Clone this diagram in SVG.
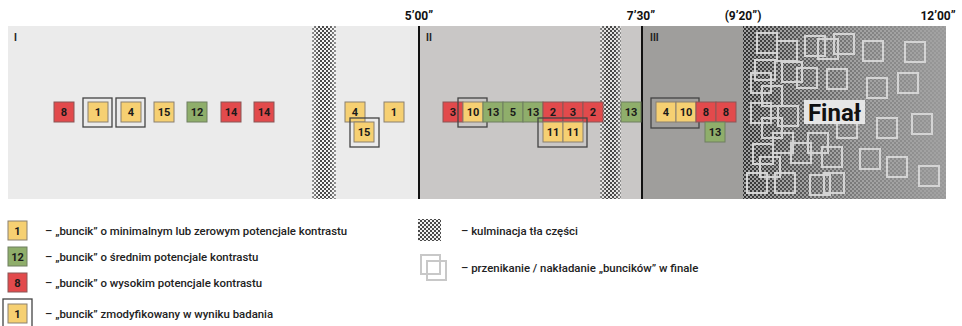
<svg xmlns="http://www.w3.org/2000/svg" width="962" height="326" viewBox="0 0 962 326">
<style>
.y{fill:#f6d072;stroke:#8a8070;stroke-width:1}
.g{fill:#8fae6b;stroke:#6f7f60;stroke-width:1}
.r{fill:#e24a4c;stroke:#8a5656;stroke-width:1}
.fr{fill:none;stroke:#444;stroke-width:1.3}
.bt{font-family:Roboto,"Liberation Sans",sans-serif;font-weight:bold;font-size:11px;fill:#1a1a1a;text-anchor:middle}
.hd{font-family:Roboto,"Liberation Sans",sans-serif;font-weight:bold;font-size:12px;fill:#111;text-anchor:middle}
.sl{font-family:Roboto,"Liberation Sans",sans-serif;font-weight:bold;font-size:10px;fill:#222}
.lg{font-family:Roboto,"Liberation Sans",sans-serif;font-weight:500;font-size:11.4px;fill:#222}
.sq{fill:none;stroke:#d4d4d4;stroke-width:2}
</style>
<defs>
<pattern id="dots" width="4" height="4" patternUnits="userSpaceOnUse">
<circle cx="1" cy="1" r="1" fill="#111"/>
<circle cx="3" cy="3" r="1" fill="#111"/>
</pattern>
<pattern id="chk" width="4" height="4" patternUnits="userSpaceOnUse">
<rect x="0" y="0" width="2" height="2" fill="#2a2a2a"/>
<rect x="2" y="2" width="2" height="2" fill="#2a2a2a"/>
</pattern>
<linearGradient id="fade" x1="0" y1="0" x2="1" y2="0">
<stop offset="0" stop-color="#eee"/>
<stop offset="0.3" stop-color="#999"/>
<stop offset="0.6" stop-color="#444"/>
<stop offset="1" stop-color="#111"/>
</linearGradient>
<linearGradient id="edge" x1="0" y1="0" x2="1" y2="0">
<stop offset="0" stop-color="#888"/>
<stop offset="0.3" stop-color="#fff"/>
<stop offset="0.7" stop-color="#fff"/>
<stop offset="1" stop-color="#888"/>
</linearGradient>
<mask id="mFinal"><rect x="743" y="26" width="203" height="173" fill="url(#fade)"/></mask>
<mask id="mS1"><rect x="312" y="26" width="24" height="173" fill="url(#edge)"/></mask>
<mask id="mS2"><rect x="600" y="26" width="21" height="173" fill="url(#edge)"/></mask>
</defs>

<!-- background sections -->
<g id="background">
<rect x="8" y="26" width="411" height="173" fill="#ebebeb"/>
<rect x="419" y="26" width="223" height="173" fill="#c9c7c6"/>
<rect x="642" y="26" width="101" height="173" fill="#9f9e9c"/>
<rect x="743" y="26" width="203" height="173" fill="#a2a2a2"/>
<rect x="743" y="26" width="203" height="173" fill="url(#chk)" mask="url(#mFinal)"/>
<rect x="312" y="26" width="24" height="173" fill="#f4f4f4"/>
<rect x="312" y="26" width="24" height="173" fill="url(#dots)" mask="url(#mS1)"/>
<rect x="600" y="26" width="21" height="173" fill="#e4e3e2"/>
<rect x="600" y="26" width="21" height="173" fill="url(#dots)" mask="url(#mS2)"/>
<line x1="419" y1="26" x2="419" y2="199" stroke="#111" stroke-width="2"/>
<line x1="642" y1="26" x2="642" y2="199" stroke="#111" stroke-width="2"/>
</g>

<g id="time-labels">
<text class="hd" x="419" y="20">5’00”</text>
<text class="hd" x="641" y="20">7’30”</text>
<text class="hd" x="743" y="20">(9’20”)</text>
<text class="hd" x="938" y="20">12’00”</text>
</g>
<g id="section-labels">
<text class="sl" x="14" y="41">I</text>
<text class="sl" x="426" y="41">II</text>
<text class="sl" x="650" y="41">III</text>
</g>

<!-- final overlapping squares -->
<g id="final-squares">
<rect class="sq" x="757" y="33" width="20" height="20"/>
<rect class="sq" x="777" y="41" width="20" height="20"/>
<rect class="sq" x="805" y="36" width="20" height="20"/>
<rect class="sq" x="818" y="39" width="20" height="20"/>
<rect class="sq" x="834" y="34" width="20" height="20"/>
<rect class="sq" x="863" y="41" width="20" height="20"/>
<rect class="sq" x="905" y="42" width="20" height="20"/>
<rect class="sq" x="755" y="60" width="20" height="20"/>
<rect class="sq" x="782" y="62" width="20" height="20"/>
<rect class="sq" x="797" y="68" width="20" height="20"/>
<rect class="sq" x="827" y="69" width="20" height="20"/>
<rect class="sq" x="751" y="73" width="20" height="20"/>
<rect class="sq" x="762" y="86" width="20" height="20"/>
<rect class="sq" x="867" y="78" width="20" height="20"/>
<rect class="sq" x="898" y="73" width="20" height="20"/>
<rect class="sq" x="751" y="103" width="20" height="20"/>
<rect class="sq" x="778" y="106" width="20" height="20"/>
<rect class="sq" x="762" y="118" width="20" height="20"/>
<rect class="sq" x="837" y="118" width="20" height="20"/>
<rect class="sq" x="877" y="118" width="20" height="20"/>
<rect class="sq" x="912" y="114" width="20" height="20"/>
<rect class="sq" x="753" y="144" width="20" height="20"/>
<rect class="sq" x="773" y="133" width="20" height="20"/>
<rect class="sq" x="791" y="143" width="20" height="20"/>
<rect class="sq" x="808" y="133" width="20" height="20"/>
<rect class="sq" x="822" y="147" width="20" height="20"/>
<rect class="sq" x="760" y="157" width="20" height="20"/>
<rect class="sq" x="747" y="173" width="20" height="20"/>
<rect class="sq" x="775" y="173" width="20" height="20"/>
<rect class="sq" x="810" y="175" width="20" height="20"/>
<rect class="sq" x="824" y="173" width="20" height="20"/>
<rect class="sq" x="860" y="149" width="20" height="20"/>
<rect class="sq" x="887" y="157" width="20" height="20"/>
<rect class="sq" x="919" y="166" width="20" height="20"/>
</g>
<g id="final-label">
<rect x="804" y="100" width="61" height="24" fill="#e6e6e6"/>
<text x="834.5" y="121" font-family="Roboto,'Liberation Sans',sans-serif" font-weight="bold" font-size="24" fill="#111" text-anchor="middle">Finał</text>
</g>

<!-- Section I -->
<g id="s1-8"><rect class="r" x="54" y="102" width="20" height="20"/><text class="bt" x="64" y="116">8</text></g>
<g id="s1-1"><rect class="y" x="88" y="102" width="20" height="20"/><text class="bt" x="98" y="116">1</text><rect class="fr" x="83" y="98" width="29" height="29"/></g>
<g id="s1-4"><rect class="y" x="121" y="102" width="20" height="20"/><text class="bt" x="131" y="116">4</text><rect class="fr" x="116" y="98" width="29" height="29"/></g>
<g id="s1-15"><rect class="y" x="154" y="102" width="20" height="20"/><text class="bt" x="164" y="116">15</text></g>
<g id="s1-12"><rect class="g" x="187" y="102" width="20" height="20"/><text class="bt" x="197" y="116">12</text></g>
<g id="s1-14a"><rect class="r" x="221" y="102" width="20" height="20"/><text class="bt" x="231" y="116">14</text></g>
<g id="s1-14b"><rect class="r" x="254" y="102" width="20" height="20"/><text class="bt" x="264" y="116">14</text></g>
<g id="s1b-4"><rect class="y" x="345" y="102" width="20" height="20"/><text class="bt" x="355" y="116">4</text></g>
<g id="s1b-1"><rect class="y" x="384" y="102" width="20" height="20"/><text class="bt" x="394" y="116">1</text></g>
<g id="s1b-15"><rect class="y" x="354" y="122" width="20" height="20"/><text class="bt" x="364" y="136">15</text><rect class="fr" x="350" y="118" width="29" height="29"/></g>

<!-- Section II -->
<g id="s2-3a"><rect class="r" x="443" y="102" width="20" height="20"/><text class="bt" x="453" y="116">3</text></g>
<g id="s2-10"><rect class="y" x="463" y="102" width="20" height="20"/><text class="bt" x="473" y="116">10</text><rect class="fr" x="458" y="98" width="29" height="29"/></g>
<g id="s2-13a"><rect class="g" x="483" y="102" width="20" height="20"/><text class="bt" x="493" y="116">13</text></g>
<g id="s2-5"><rect class="g" x="503" y="102" width="20" height="20"/><text class="bt" x="513" y="116">5</text></g>
<g id="s2-13b"><rect class="g" x="523" y="102" width="20" height="20"/><text class="bt" x="533" y="116">13</text></g>
<g id="s2-2a"><rect class="r" x="543" y="102" width="20" height="20"/><text class="bt" x="553" y="116">2</text></g>
<g id="s2-3b"><rect class="r" x="563" y="102" width="20" height="20"/><text class="bt" x="573" y="116">3</text></g>
<g id="s2-2b"><rect class="r" x="583" y="102" width="20" height="20"/><text class="bt" x="593" y="116">2</text></g>
<g id="s2-11"><rect class="y" x="543" y="122" width="20" height="20"/><text class="bt" x="553" y="136">11</text><rect class="y" x="563" y="122" width="20" height="20"/><text class="bt" x="573" y="136">11</text><rect class="fr" x="538" y="118" width="49" height="29"/></g>
<g id="s2b-13"><rect class="g" x="621" y="102" width="20" height="20"/><text class="bt" x="631" y="116">13</text></g>

<!-- Section III -->
<g id="s3-4-10"><rect class="y" x="656" y="102" width="20" height="20"/><text class="bt" x="666" y="116">4</text><rect class="y" x="676" y="102" width="20" height="20"/><text class="bt" x="686" y="116">10</text><rect class="fr" x="651" y="98" width="48" height="30"/></g>
<g id="s3-8a"><rect class="r" x="696" y="102" width="20" height="20"/><text class="bt" x="706" y="116">8</text></g>
<g id="s3-8b"><rect class="r" x="716" y="102" width="20" height="20"/><text class="bt" x="726" y="116">8</text></g>
<g id="s3-13"><rect class="g" x="705" y="122" width="20" height="20"/><text class="bt" x="715" y="136">13</text></g>

<!-- Legend -->
<g id="legend-low"><rect class="y" x="8" y="221" width="19" height="19"/><text class="bt" x="17.5" y="235">1</text><text class="lg" x="45" y="235">– „buncik” o minimalnym lub zerowym potencjale kontrastu</text></g>
<g id="legend-mid"><rect class="g" x="8" y="247" width="19" height="19"/><text class="bt" x="17.5" y="261">12</text><text class="lg" x="45" y="261">– „buncik” o średnim potencjale kontrastu</text></g>
<g id="legend-high"><rect class="r" x="8" y="273" width="19" height="19"/><text class="bt" x="17.5" y="287">8</text><text class="lg" x="45" y="287">– „buncik” o wysokim potencjale kontrastu</text></g>
<g id="legend-mod"><rect class="y" x="8" y="304" width="19" height="19"/><text class="bt" x="17.5" y="318">1</text><rect class="fr" x="3" y="299" width="29" height="29"/><text class="lg" x="45" y="318">– „buncik” zmodyfikowany w wyniku badania</text></g>
<g id="legend-culm"><rect x="418" y="219" width="23" height="22" fill="#f2f2f2"/><rect x="418" y="219" width="23" height="22" fill="url(#dots)"/><text class="lg" x="461" y="235">– kulminacja tła części</text></g>
<g id="legend-overlap"><rect x="421" y="255" width="19" height="19" fill="none" stroke="#c8c8c8" stroke-width="2"/><rect x="427" y="261" width="19" height="19" fill="none" stroke="#c8c8c8" stroke-width="2"/><text class="lg" x="461" y="272">– przenikanie / nakładanie „buncików” w finale</text></g>
</svg>
